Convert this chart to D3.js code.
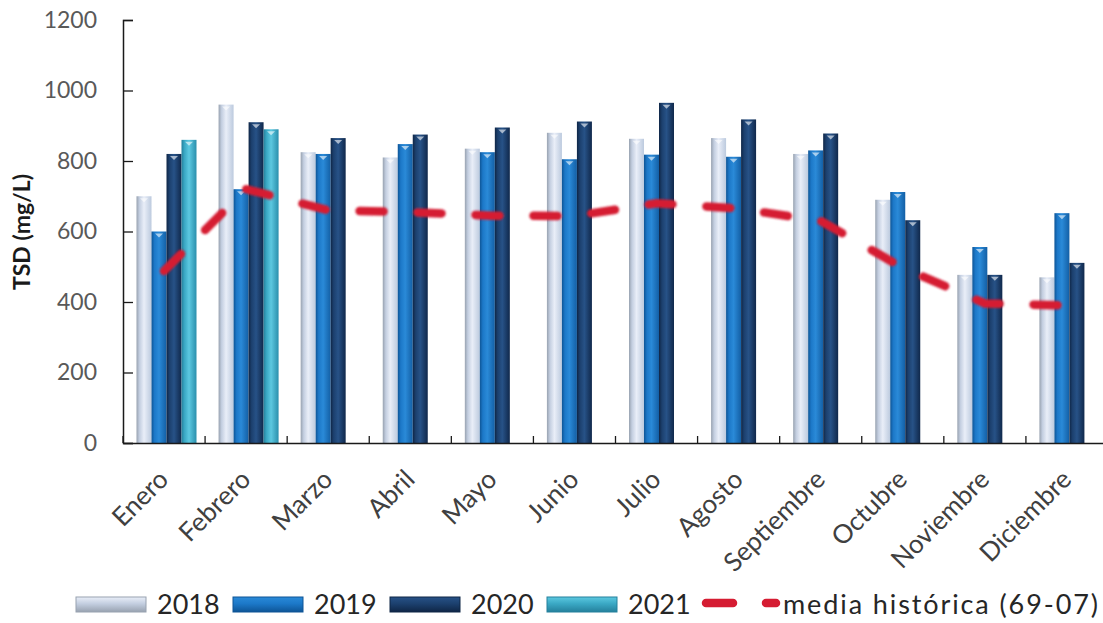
<!DOCTYPE html>
<html><head><meta charset="utf-8">
<script src="https://cdn.jsdelivr.net/npm/d3@7"></script>
<style>body{margin:0;background:#fff;} svg{display:block;font-family:Lato, "Open Sans", sans-serif;}</style>
</head><body><svg id="c" width="1103" height="623"></svg>
<script>
const months = ["Enero","Febrero","Marzo","Abril","Mayo","Junio","Julio","Agosto","Septiembre","Octubre","Noviembre","Diciembre"];
const years = ["2018","2019","2020","2021"];
const v2018 = [700, 960, 825, 810, 835, 880, 863, 865, 820, 690, 477, 470];
const v2019 = [600, 720, 820, 848, 825, 805, 818, 812, 830, 712, 556, 652];
const v2020 = [820, 910, 865, 875, 895, 912, 965, 918, 878, 632, 477, 511];
const v2021 = [860, 890, null, null, null, null, null, null, null, null, null, null];
const mediaHistorica = [488, 720, 660, 655, 645, 644, 680, 665, 630, 497, 396, 390];
const yTicks = [0, 200, 400, 600, 800, 1000, 1200];
const yTitle = "TSD (mg/L)";
const lineLabel = "media histórica (69-07)";

const seriesValues = [v2018, v2019, v2020, v2021];
const grads = [
  ["#98a2b0", "#c3cee0", "#e9eef8", "#bccade"],
  ["#0e5596", "#1c78c8", "#2a8ad8", "#135fa5"],
  ["#0f2646", "#1c406e", "#275287", "#10284b"],
  ["#25809c", "#3aa8c4", "#5cc8e0", "#2a8fac"]
];

const svg = d3.select("#c");
const defs = svg.append("defs");
grads.forEach((g, i) => {
  const lg = defs.append("linearGradient").attr("id", "gb" + i).attr("x1", 0).attr("x2", 1).attr("y1", 0).attr("y2", 0);
  [[0, g[0]], [0.2, g[1]], [0.5, g[2]], [1, g[3]]].forEach(s => lg.append("stop").attr("offset", s[0]).attr("stop-color", s[1]));
  const lv = defs.append("linearGradient").attr("id", "gl" + i).attr("x1", 0).attr("x2", 0).attr("y1", 0).attr("y2", 1);
  [[0, g[2]], [0.45, g[1]], [1, g[0]]].forEach(s => lv.append("stop").attr("offset", s[0]).attr("stop-color", s[1]));
});
const flt = defs.append("filter").attr("id", "blur").attr("x", "-10%").attr("y", "-10%").attr("width", "120%").attr("height", "120%");
flt.append("feGaussianBlur").attr("stdDeviation", 0.8);

const x0 = d3.scaleBand().domain(months).range([123, 1108]);
const x1 = d3.scaleBand().domain(years).range([13.5, 73.5]);
const y = d3.scaleLinear().domain([0, 1200]).range([443, 20]);

// bars
const data = [];
months.forEach((m, i) => years.forEach((yr, j) => {
  const v = seriesValues[j][i];
  if (v != null) data.push({m, yr, j, v});
}));
const bars = svg.append("g");
bars.selectAll("rect.bar").data(data).join("rect").attr("class", "bar")
  .attr("x", d => x0(d.m) + x1(d.yr))
  .attr("y", d => y(d.v))
  .attr("width", x1.bandwidth())
  .attr("height", d => y(0) - y(d.v))
  .attr("fill", d => "url(#gb" + d.j + ")");
bars.selectAll("path.cap").data(data).join("path").attr("class", "cap")
  .attr("d", d => {
    const cx = x0(d.m) + x1(d.yr) + x1.bandwidth() / 2, ty = y(d.v);
    return `M${cx - 4},${ty + 2} L${cx + 4},${ty + 2} L${cx},${ty + 6} Z`;
  })
  .attr("fill", "#ffffff").attr("opacity", 0.6);

// axes
const yAxis = svg.append("g").attr("transform", "translate(123,0)")
  .call(d3.axisLeft(y).tickValues(yTicks).tickSize(-10).tickPadding(26).tickFormat(d3.format("d")));
yAxis.select(".domain").attr("stroke", "#1a1a1a").attr("stroke-width", 1.5);
yAxis.selectAll(".tick line").attr("stroke", "#1a1a1a").attr("stroke-width", 1.3);
yAxis.selectAll(".tick text").attr("font-size", 23).attr("fill", "#595959").attr("font-family", "Lato");

const xAxis = svg.append("g").attr("transform", "translate(0,443)")
  .call(d3.axisBottom(x0).tickSize(0).tickPadding(0));
xAxis.select(".domain").attr("stroke", "#1a1a1a").attr("stroke-width", 1.5);
xAxis.selectAll(".tick text")
  .attr("font-size", 26).attr("fill", "#404040").attr("font-family", "Lato")
  .attr("text-anchor", "end").attr("y", 0).attr("dy", 0)
  .attr("transform", "translate(6,38) rotate(-45)");
const bounds = months.map(m => x0(m)).concat([x0.range()[1]]);
svg.append("g").selectAll("line").data(bounds).join("line")
  .attr("x1", d => d).attr("x2", d => d).attr("y1", 443).attr("y2", 436)
  .attr("stroke", "#1a1a1a").attr("stroke-width", 1.3);

// y title
svg.append("text").attr("transform", "translate(30,232) rotate(-90)")
  .attr("text-anchor", "middle").attr("font-weight", "bold").attr("font-size", 23)
  .attr("fill", "#1a1a1a").text(yTitle);

// line
const line = d3.line().x((d, i) => x0(months[i]) + x0.bandwidth() / 2).y(d => y(d));
svg.append("path").datum(mediaHistorica).attr("d", line)
  .attr("fill", "none").attr("stroke", "#d51c32").attr("stroke-width", 8.5)
  .attr("stroke-linecap", "round").attr("stroke-dasharray", "24,34")
  .attr("filter", "url(#blur)");

// legend
const leg = svg.append("g");
years.forEach((yr, j) => {
  const lx = 76 + j * 157;
  leg.append("rect").attr("x", lx).attr("y", 597).attr("width", 70).attr("height", 15)
    .attr("fill", "url(#gl" + j + ")").attr("stroke", grads[j][0]).attr("stroke-width", 1);
  leg.append("text").attr("x", lx + 81).attr("y", 604).attr("dy", "0.36em")
    .attr("font-size", 27).attr("fill", "#262626").text(yr);
});
leg.append("line").attr("x1", 706).attr("x2", 733).attr("y1", 603).attr("y2", 603)
  .attr("stroke", "#d51c32").attr("stroke-width", 8.5).attr("stroke-linecap", "round");
leg.append("line").attr("x1", 766).attr("x2", 776).attr("y1", 603).attr("y2", 603)
  .attr("stroke", "#d51c32").attr("stroke-width", 8.5).attr("stroke-linecap", "round");
leg.append("text").attr("x", 783).attr("y", 604).attr("dy", "0.36em")
  .attr("font-size", 27).attr("letter-spacing", 1.9).attr("fill", "#262626").text(lineLabel);
</script></body></html>
